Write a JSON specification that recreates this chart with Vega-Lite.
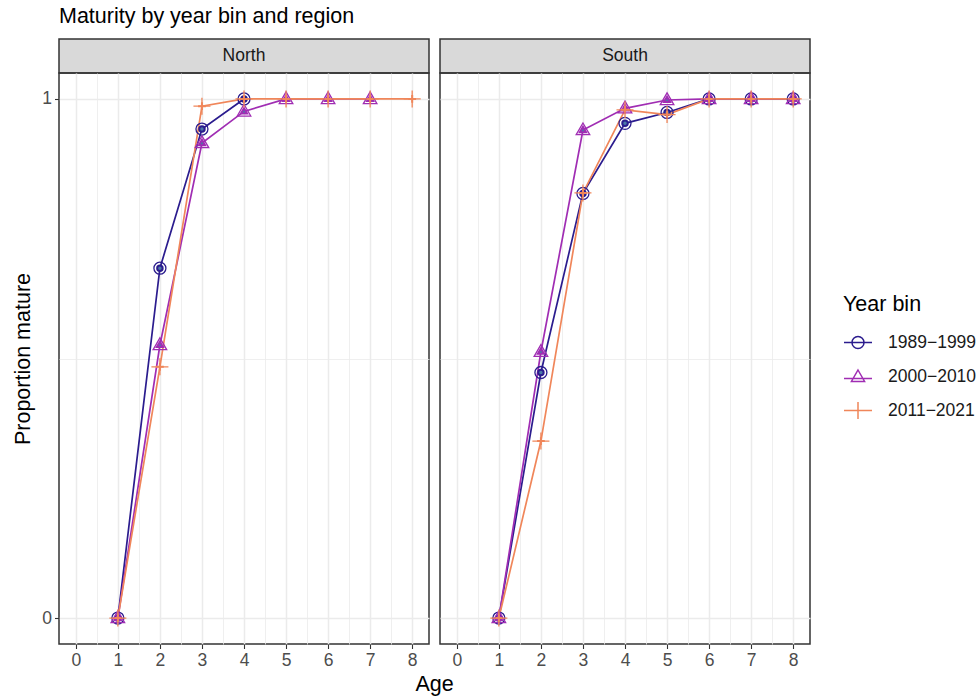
{
  "$schema": "https://vega.github.io/schema/vega-lite/v6.json",
  "padding": {"left": 12, "top": 5, "right": 5, "bottom": 5},
  "title": {"text": "Maturity by year bin and region", "anchor": "start", "frame": "group", "offset": 11},
  "datasets": {
    "strips": [{"region": "North"}, {"region": "South"}],
    "maturity": [
      {"region": "North", "bin": "1989−1999", "age": 1, "p": 0},
      {"region": "North", "bin": "1989−1999", "age": 2, "p": 0.674},
      {"region": "North", "bin": "1989−1999", "age": 3, "p": 0.942},
      {"region": "North", "bin": "1989−1999", "age": 4, "p": 1.0},
      {"region": "North", "bin": "2000−2010", "age": 1, "p": 0},
      {"region": "North", "bin": "2000−2010", "age": 2, "p": 0.526},
      {"region": "North", "bin": "2000−2010", "age": 3, "p": 0.915},
      {"region": "North", "bin": "2000−2010", "age": 4, "p": 0.976},
      {"region": "North", "bin": "2000−2010", "age": 5, "p": 1.0},
      {"region": "North", "bin": "2000−2010", "age": 6, "p": 1.0},
      {"region": "North", "bin": "2000−2010", "age": 7, "p": 1.0},
      {"region": "North", "bin": "2011−2021", "age": 1, "p": 0},
      {"region": "North", "bin": "2011−2021", "age": 2, "p": 0.484},
      {"region": "North", "bin": "2011−2021", "age": 3, "p": 0.986},
      {"region": "North", "bin": "2011−2021", "age": 4, "p": 1.0},
      {"region": "North", "bin": "2011−2021", "age": 5, "p": 1.0},
      {"region": "North", "bin": "2011−2021", "age": 6, "p": 1.0},
      {"region": "North", "bin": "2011−2021", "age": 7, "p": 1.0},
      {"region": "North", "bin": "2011−2021", "age": 8, "p": 1.0},
      {"region": "South", "bin": "1989−1999", "age": 1, "p": 0},
      {"region": "South", "bin": "1989−1999", "age": 2, "p": 0.473},
      {"region": "South", "bin": "1989−1999", "age": 3, "p": 0.818},
      {"region": "South", "bin": "1989−1999", "age": 4, "p": 0.953},
      {"region": "South", "bin": "1989−1999", "age": 5, "p": 0.974},
      {"region": "South", "bin": "1989−1999", "age": 6, "p": 1.0},
      {"region": "South", "bin": "1989−1999", "age": 7, "p": 1.0},
      {"region": "South", "bin": "1989−1999", "age": 8, "p": 1.0},
      {"region": "South", "bin": "2000−2010", "age": 1, "p": 0},
      {"region": "South", "bin": "2000−2010", "age": 2, "p": 0.513},
      {"region": "South", "bin": "2000−2010", "age": 3, "p": 0.94},
      {"region": "South", "bin": "2000−2010", "age": 4, "p": 0.982},
      {"region": "South", "bin": "2000−2010", "age": 5, "p": 0.998},
      {"region": "South", "bin": "2000−2010", "age": 6, "p": 1.0},
      {"region": "South", "bin": "2000−2010", "age": 7, "p": 1.0},
      {"region": "South", "bin": "2000−2010", "age": 8, "p": 1.0},
      {"region": "South", "bin": "2011−2021", "age": 1, "p": 0},
      {"region": "South", "bin": "2011−2021", "age": 2, "p": 0.341},
      {"region": "South", "bin": "2011−2021", "age": 3, "p": 0.819},
      {"region": "South", "bin": "2011−2021", "age": 4, "p": 0.979},
      {"region": "South", "bin": "2011−2021", "age": 5, "p": 0.97},
      {"region": "South", "bin": "2011−2021", "age": 6, "p": 1.0},
      {"region": "South", "bin": "2011−2021", "age": 7, "p": 1.0},
      {"region": "South", "bin": "2011−2021", "age": 8, "p": 1.0}
    ]
  },
  "columns": 2,
  "spacing": {"row": 0, "column": 11},
  "bounds": "flush",
  "concat": [
    {
      "data": {"name": "strips"},
      "transform": [{"filter": "datum.region === 'North'"}],
      "width": 370,
      "height": 34,
      "view": {"fill": "#D9D9D9", "stroke": "#333333", "strokeWidth": 1.5},
      "mark": {"type": "text", "fontSize": 17.5, "font": "Liberation Sans", "color": "#1A1A1A", "baseline": "middle", "align": "center"},
      "encoding": {"text": {"field": "region", "type": "nominal"}}
    },
    {
      "data": {"name": "strips"},
      "transform": [{"filter": "datum.region === 'South'"}],
      "width": 370,
      "height": 34,
      "view": {"fill": "#D9D9D9", "stroke": "#333333", "strokeWidth": 1.5},
      "mark": {"type": "text", "fontSize": 17.5, "font": "Liberation Sans", "color": "#1A1A1A", "baseline": "middle", "align": "center"},
      "encoding": {"text": {"field": "region", "type": "nominal"}}
    },
    {
      "data": {"name": "maturity"},
      "transform": [{"filter": "datum.region === 'North'"}],
      "width": 370,
      "height": 571,
      "encoding": {
        "x": {"field": "age", "type": "quantitative", "title": "Age",
          "scale": {"domain": [-0.4, 8.4], "nice": false, "zero": false},
          "axis": {"values": [0, 0.5, 1, 1.5, 2, 2.5, 3, 3.5, 4, 4.5, 5, 5.5, 6, 6.5, 7, 7.5, 8],
            "labelExpr": "datum.value % 1 === 0 ? format(datum.value, 'd') : ''",
            "titleX": 375, "titlePadding": 4,
            "tickOpacity": {"condition": {"test": "datum.value % 1 !== 0", "value": 0}, "value": 1},
            "gridWidth": {"condition": {"test": "datum.value % 1 !== 0", "value": 0.8}, "value": 1.5}}},
        "y": {"field": "p", "type": "quantitative", "title": "Proportion mature",
          "scale": {"domain": [-0.05, 1.05], "nice": false, "zero": false},
          "axis": {"values": [0, 0.5, 1],
            "labelExpr": "datum.value % 1 === 0 ? format(datum.value, 'd') : ''",
            "tickOpacity": {"condition": {"test": "datum.value % 1 !== 0", "value": 0}, "value": 1},
            "gridWidth": {"condition": {"test": "datum.value % 1 !== 0", "value": 0.8}, "value": 1.5}}},
        "stroke": {"field": "bin", "type": "nominal", "title": "Year bin",
          "scale": {"domain": ["1989−1999", "2000−2010", "2011−2021"], "range": ["#2B1C8E", "#A02DB3", "#F0865A"]},
          "legend": {"encode": {"symbols": {"update": {
            "shape": {"signal": "datum.value === '1989−1999' ? 'M-1,0L1,0M0.43,0A0.43,0.43 0 1 1 -0.43,0A0.43,0.43 0 1 1 0.43,0' : datum.value === '2000−2010' ? 'M-1,0.1L1,0.1M0,-0.5L0.47,0.32L-0.47,0.32Z' : 'M-1,0L1,0M0,-0.6L0,0.6'"},
            "fill": {"value": "transparent"},
            "strokeWidth": {"value": 1.5}}}}}},
        "shape": {"field": "bin", "type": "nominal", "legend": null,
          "scale": {"range": ["circle", "M0,-1.19L1.13,0.77L-1.13,0.77Z", "M-1.42,0L1.42,0M0,-1.42L0,1.42"]}}
      },
      "layer": [
        {"mark": {"type": "line", "strokeWidth": 1.7}},
        {"mark": {"type": "point", "filled": false, "fill": "transparent", "size": 144, "strokeWidth": 1.3, "opacity": 1}}
      ]
    },
    {
      "data": {"name": "maturity"},
      "transform": [{"filter": "datum.region === 'South'"}],
      "width": 370,
      "height": 571,
      "encoding": {
        "x": {"field": "age", "type": "quantitative", "title": null,
          "scale": {"domain": [-0.4, 8.4], "nice": false, "zero": false},
          "axis": {"values": [0, 0.5, 1, 1.5, 2, 2.5, 3, 3.5, 4, 4.5, 5, 5.5, 6, 6.5, 7, 7.5, 8],
            "labelExpr": "datum.value % 1 === 0 ? format(datum.value, 'd') : ''",
            "tickOpacity": {"condition": {"test": "datum.value % 1 !== 0", "value": 0}, "value": 1},
            "gridWidth": {"condition": {"test": "datum.value % 1 !== 0", "value": 0.8}, "value": 1.5}}},
        "y": {"field": "p", "type": "quantitative", "title": null,
          "scale": {"domain": [-0.05, 1.05], "nice": false, "zero": false},
          "axis": {"values": [0, 0.5, 1], "labels": false, "ticks": false,
            "gridWidth": {"condition": {"test": "datum.value % 1 !== 0", "value": 0.8}, "value": 1.5}}},
        "stroke": {"field": "bin", "type": "nominal", "title": "Year bin",
          "scale": {"domain": ["1989−1999", "2000−2010", "2011−2021"], "range": ["#2B1C8E", "#A02DB3", "#F0865A"]},
          "legend": {"encode": {"symbols": {"update": {
            "shape": {"signal": "datum.value === '1989−1999' ? 'M-1,0L1,0M0.43,0A0.43,0.43 0 1 1 -0.43,0A0.43,0.43 0 1 1 0.43,0' : datum.value === '2000−2010' ? 'M-1,0.1L1,0.1M0,-0.5L0.47,0.32L-0.47,0.32Z' : 'M-1,0L1,0M0,-0.6L0,0.6'"},
            "fill": {"value": "transparent"},
            "strokeWidth": {"value": 1.5}}}}}},
        "shape": {"field": "bin", "type": "nominal", "legend": null,
          "scale": {"range": ["circle", "M0,-1.19L1.13,0.77L-1.13,0.77Z", "M-1.42,0L1.42,0M0,-1.42L0,1.42"]}}
      },
      "layer": [
        {"mark": {"type": "line", "strokeWidth": 1.7}},
        {"mark": {"type": "point", "filled": false, "fill": "transparent", "size": 144, "strokeWidth": 1.3, "opacity": 1}}
      ]
    }
  ],
  "config": {
    "font": "Liberation Sans",
    "view": {"stroke": "#333333", "strokeWidth": 1.5},
    "title": {"fontSize": 21.5, "fontWeight": "normal", "color": "#000000", "font": "Liberation Sans"},
    "axis": {
      "domain": false,
      "gridColor": "#EBEBEB",
      "tickColor": "#333333",
      "tickSize": 4.5,
      "tickWidth": 1.1,
      "labelColor": "#4D4D4D",
      "labelFontSize": 17.5,
      "labelFont": "Liberation Sans",
      "labelPadding": 3,
      "labelFlush": false,
      "labelOverlap": false,
      "titleFontSize": 21.5,
      "titleFont": "Liberation Sans",
      "titleFontWeight": "normal",
      "titleColor": "#000000",
      "titlePadding": 7
    },
    "legend": {
      "orient": "none",
      "legendX": 784,
      "legendY": 255,
      "padding": 0,
      "titleFontSize": 21.5,
      "titleFont": "Liberation Sans",
      "titleFontWeight": "normal",
      "titleColor": "#000000",
      "titlePadding": 12,
      "labelFontSize": 17.5,
      "labelFont": "Liberation Sans",
      "labelColor": "#1A1A1A",
      "labelOffset": 15,
      "symbolSize": 784,
      "symbolStrokeWidth": 1.5,
      "rowPadding": 9.5
    }
  },
  "resolve": {"scale": {"stroke": "shared", "shape": "shared"}, "legend": {"stroke": "shared"}}
}
